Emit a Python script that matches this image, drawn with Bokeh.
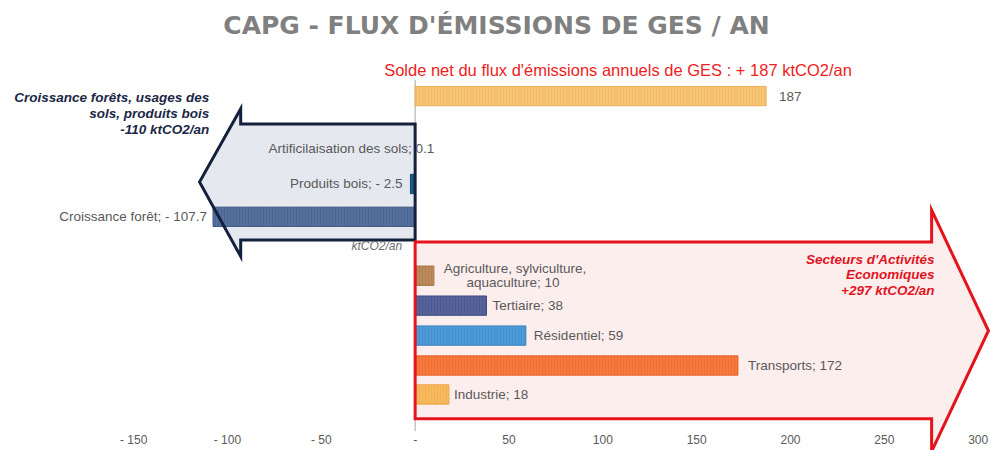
from bokeh.plotting import figure
from bokeh.models import Range1d, LinearAxis, FixedTicker, ColumnDataSource
from bokeh.core.properties import value
from bokeh.embed import file_html
from bokeh.resources import INLINE

# ---------------- data ----------------
title_text = "CAPG - FLUX D'ÉMISSIONS DE GES / AN"
subtitle_text = "Solde net du flux d'émissions annuels de GES : + 187 ktCO2/an"

net_value = 187

land_categories = ["Artificilaisation des sols", "Produits bois", "Croissance forêt"]
land_values = [0.1, -2.5, -107.7]
land_value_texts = ["0.1", "- 2.5", "- 107.7"]

sector_categories = ["Agriculture, sylviculture, aquaculture", "Tertiaire", "Résidentiel", "Transports", "Industrie"]
sector_values = [10, 38, 59, 172, 18]

land_total_lines = ["Croissance forêts, usages des", "sols, produits bois", "-110 ktCO2/an"]
sector_total_lines = ["Secteurs d'Activités", "Economiques", "+297 ktCO2/an"]
unit_text = "ktCO2/an"

tick_values = [-150, -100, -50, 0, 50, 100, 150, 200, 250, 300]
tick_labels = ["- 150", "- 100", "- 50", "-", "50", "100", "150", "200", "250", "300"]

# ---------------- layout / style ----------------
REF_H = 466
ZERO_PX, PX_PER_UNIT = 418, 1.915
VIEW_LEFT, VIEW_RIGHT = -5.1, 1005.1


def px2x(px):
    return (px - ZERO_PX) / PX_PER_UNIT


NET_Y = 99
LAND_Y = [153, 190, 224]
SECTOR_Y = [285, 316, 347, 378, 408]
BAR_H = 20
FONT = value("Liberation Sans")
LABEL_COLOR = "#595959"

net_color, net_hatch = "#F8C677", "#EDAE55"
land_colors = ["#5A7BA6", "#1F5C84", "#56719E"]
land_hatch = ["#42608C", "#174A6C", "#3D5683"]
sector_colors = ["#BC8A5C", "#56649B", "#4F9AD8", "#F6793D", "#F8BA5E"]
sector_hatch = ["#A4733F", "#3F4C82", "#3A82C0", "#E5622A", "#EDA444"]

p = figure(width=990, height=450,
           x_range=Range1d(px2x(VIEW_LEFT), px2x(VIEW_RIGHT)),
           y_range=Range1d(REF_H, 0),
           output_backend="svg", toolbar_location=None,
           x_axis_location=None, y_axis_location=None,
           min_border=0, outline_line_color=None,
           background_fill_color="white", border_fill_color="white")
p.xgrid.visible = False
p.ygrid.visible = False

# ---------------- arrows (fill behind) ----------------
left_arrow_px = [418, 240, 240, 198, 240, 240, 418]
left_arrow_y = [128, 128, 112, 188, 265, 248, 248]
right_arrow_px = [418, 945, 945, 1003, 945, 945, 418]
right_arrow_y = [250, 250, 217, 342, 467, 433, 433]
left_arrow_x = [px2x(v) for v in left_arrow_px]
right_arrow_x = [px2x(v) for v in right_arrow_px]

p.patch(left_arrow_x, left_arrow_y, fill_color="#E5E8EE", line_color=None)
p.patch(right_arrow_x, right_arrow_y, fill_color="#FDEEEE", line_color=None)

# zero line
p.segment(x0=[0], y0=[82], x1=[0], y1=[446], line_color="#A6A6A6", line_width=1)

# ---------------- bars ----------------
bars = ColumnDataSource(dict(
    y=[NET_Y] + LAND_Y + SECTOR_Y,
    right=[net_value] + land_values + sector_values,
    color=[net_color] + land_colors + sector_colors,
    hatch=[net_hatch] + land_hatch + sector_hatch,
))
p.hbar(y="y", left=0, right="right", height=BAR_H, source=bars,
       fill_color="color", line_color="hatch", line_width=1,
       hatch_pattern="|", hatch_color="hatch", hatch_alpha=0.45,
       hatch_scale=3, hatch_weight=1)

# ---------------- arrow outlines (on top) ----------------
p.patch(left_arrow_x, left_arrow_y, fill_color=None, line_color="#14213D",
        line_width=3, line_join="miter")
p.patch(right_arrow_x, right_arrow_y, fill_color=None, line_color="#E3141B",
        line_width=3, line_join="miter")

# ---------------- labels ----------------
common = dict(text_font=FONT, text_font_size="13.5px", text_color=LABEL_COLOR,
              text_baseline="middle")

p.text(x=[net_value], y=[NET_Y], text=[str(net_value)], x_offset=13,
       text_align="left", **common)

land_src = ColumnDataSource(dict(
    x=land_values, y=LAND_Y,
    text=[f"{c}; {t}" for c, t in zip(land_categories, land_value_texts)],
    xoff=[19, -8, -6],
))
p.text(x="x", y="y", text="text", x_offset="xoff", source=land_src,
       text_align="right", **common)

agri_words = sector_categories[0].split(", ")
p.text(x=[sector_values[0]] * 2, y=[SECTOR_Y[0] - 7, SECTOR_Y[0] + 7],
       text=[agri_words[0] + ", " + agri_words[1] + ",",
             f"{agri_words[2]};  {sector_values[0]}"],
       x_offset=81, text_align="center", **common)

sec_src = ColumnDataSource(dict(
    x=sector_values[1:], y=SECTOR_Y[1:],
    text=[f"{c};  {v}" for c, v in zip(sector_categories[1:], sector_values[1:])],
    xoff=[6, 8, 10, 5],
))
p.text(x="x", y="y", text="text", x_offset="xoff", source=sec_src,
       text_align="left", **common)

p.text(x=[0], y=[254], text=[unit_text], x_offset=-13, text_align="right",
       text_font=FONT, text_font_size="12px", text_font_style="italic",
       text_color="#6D6D6D", text_baseline="middle")

p.text(x=[px2x(208)] * 3, y=[100, 117, 134], text=land_total_lines,
       text_align="right", text_font=FONT, text_font_size="13.5px",
       text_font_style="bold italic", text_color="#1B2745", text_baseline="middle")

p.text(x=[px2x(948)] * 3, y=[268, 284, 300], text=sector_total_lines,
       text_align="right", text_font=FONT, text_font_size="13.5px",
       text_font_style="bold italic", text_color="#E0141E", text_baseline="middle")

# title & subtitle
p.text(x=[px2x(501)], y=[26], text=[title_text], text_align="center",
       text_font=value("DejaVu Sans"), text_font_size="25px", text_font_style="bold",
       text_color="#808080", text_baseline="middle")
p.text(x=[px2x(625)], y=[72], text=[subtitle_text], text_align="center",
       text_font=FONT, text_font_size="16.5px", text_color="#EE1C1C",
       text_baseline="middle")

# ---------------- axis ----------------
xaxis = LinearAxis(ticker=FixedTicker(ticks=tick_values),
                   major_label_overrides=dict(zip(tick_values, tick_labels)),
                   fixed_location=446,
                   axis_line_color=None, major_tick_line_color=None,
                   minor_tick_line_color=None, major_tick_out=0, major_tick_in=0,
                   major_label_standoff=2,
                   major_label_text_font="Liberation Sans",
                   major_label_text_font_size="12px",
                   major_label_text_color=LABEL_COLOR)
p.add_layout(xaxis, "below")

open("out.html", "w").write(file_html(p, INLINE))
